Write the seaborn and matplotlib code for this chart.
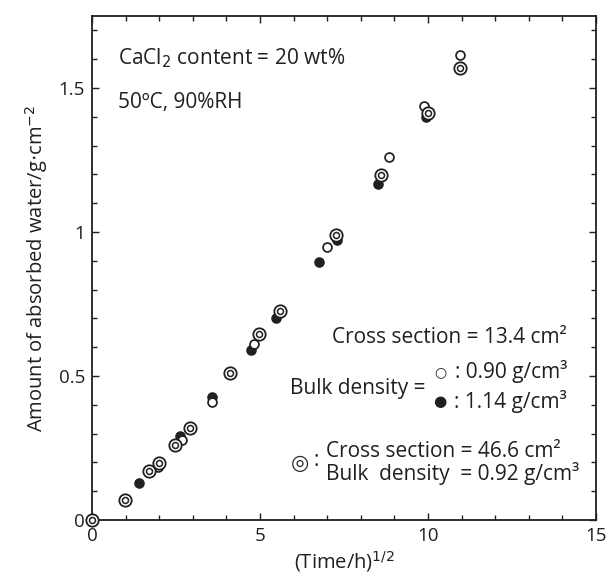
import matplotlib
matplotlib.use("Agg")
import matplotlib.pyplot as plt
import seaborn as sns
import pandas as pd
from matplotlib.ticker import MultipleLocator

# Cross section 13.4 cm2, bulk density 0.90 g/cm3 (open circles)
open_x = [0.0, 1.0, 1.95, 2.67, 3.57, 4.83, 5.58, 6.98, 8.84, 9.89, 10.96]
open_y = [0.0, 0.07, 0.185, 0.278, 0.409, 0.611, 0.718, 0.947, 1.261, 1.437, 1.615]
# Cross section 13.4 cm2, bulk density 1.14 g/cm3 (filled circles)
fill_x = [0.0, 1.40, 2.62, 3.58, 4.72, 5.48, 6.77, 7.30, 8.51, 9.95]
fill_y = [0.0, 0.13, 0.292, 0.426, 0.590, 0.702, 0.895, 0.972, 1.167, 1.398]
# Cross section 46.6 cm2, bulk density 0.92 g/cm3 (double circles)
dbl_x = [0.0, 0.98, 1.71, 1.98, 2.48, 2.93, 4.11, 4.97, 5.60, 7.26, 8.60, 9.99, 10.96]
dbl_y = [0.0, 0.069, 0.171, 0.199, 0.26, 0.32, 0.511, 0.647, 0.727, 0.989, 1.199, 1.414, 1.570]

x_ticks = [0, 5, 10, 15]
y_ticks = [0, 0.5, 1, 1.5]
y_ticklabels = ["0", "0.5", "1", "1.5"]

sns.set_theme(style="ticks")
plt.rcParams['font.family'] = ['Open Sans', 'DejaVu Sans']
ink = '#231f20'
plt.rcParams['text.color'] = ink

fig, ax = plt.subplots(figsize=(6.06, 5.79), dpi=100)
fig.subplots_adjust(left=92/606, right=596/606, top=1-16/579, bottom=1-520/579)

df_open = pd.DataFrame({'x': open_x, 'y': open_y})
df_fill = pd.DataFrame({'x': fill_x, 'y': fill_y})
df_dbl = pd.DataFrame({'x': dbl_x, 'y': dbl_y})

sns.scatterplot(data=df_fill, x='x', y='y', ax=ax, marker='o', s=6.6**2,
                facecolor=ink, edgecolor=ink, linewidth=1.0, zorder=3, clip_on=False)
sns.scatterplot(data=df_open, x='x', y='y', ax=ax, marker='o', s=6.4**2,
                facecolor='white', edgecolor=ink, linewidth=1.25, zorder=4, clip_on=False)
sns.scatterplot(data=df_dbl, x='x', y='y', ax=ax, marker='o', s=8.9**2,
                facecolor='white', edgecolor=ink, linewidth=1.3, zorder=5, clip_on=False)
sns.scatterplot(data=df_dbl, x='x', y='y', ax=ax, marker='o', s=4.3**2,
                facecolor='white', edgecolor=ink, linewidth=1.1, zorder=6, clip_on=False)

ax.set_xlim(0, 15)
ax.set_ylim(0, 1.75)
ax.set_xticks(x_ticks)
ax.set_xticklabels([str(t) for t in x_ticks])
ax.set_yticks(y_ticks)
ax.set_yticklabels(y_ticklabels)
ax.xaxis.set_minor_locator(MultipleLocator(1))
ax.yaxis.set_minor_locator(MultipleLocator(0.1))
ax.tick_params(which='both', direction='in', top=True, right=True,
               labelsize=13.5, colors=ink, width=1.0, pad=5)
ax.tick_params(which='major', length=5)
ax.tick_params(which='minor', length=3.5)
for sp in ax.spines.values():
    sp.set_color(ink)
    sp.set_linewidth(1.3)
    sp.set_zorder(2)

ax.set_xlabel('(Time/h)$^{1/2}$', fontsize=14.5, color=ink, labelpad=3)
ax.set_ylabel('Amount of absorbed water/g$\\cdot$cm$^{-2}$', fontsize=14.5, color=ink, labelpad=6)

fs = 15
ax.text(0.77, 1.604, 'CaCl$_2$ content = 20 wt%', fontsize=fs, va='center', ha='left')
ax.text(0.77, 1.448, '50ºC, 90%RH', fontsize=fs, va='center', ha='left')
ax.text(14.14, 0.635, 'Cross section = 13.4 cm²', fontsize=fs, va='center', ha='right')
ax.text(9.94, 0.458, 'Bulk density =', fontsize=fs, va='center', ha='right')
ax.text(10.36, 0.514, '○', fontsize=10, va='center', ha='center', family='DejaVu Sans')
ax.text(10.36, 0.41, '●', fontsize=11, va='center', ha='center', family='DejaVu Sans')
ax.text(14.14, 0.514, ': 0.90 g/cm³', fontsize=fs, va='center', ha='right')
ax.text(14.14, 0.41, ': 1.14 g/cm³', fontsize=fs, va='center', ha='right')
ax.text(6.19, 0.199, '◎', fontsize=15, va='center', ha='center', family='DejaVu Sans')
ax.text(6.68, 0.205, ':', fontsize=fs, va='center', ha='center')
ax.text(6.96, 0.238, 'Cross section = 46.6 cm²', fontsize=fs, va='center', ha='left')
ax.text(6.96, 0.162, 'Bulk  density  = 0.92 g/cm³', fontsize=fs, va='center', ha='left')

fig.savefig('out.png', dpi=100)
